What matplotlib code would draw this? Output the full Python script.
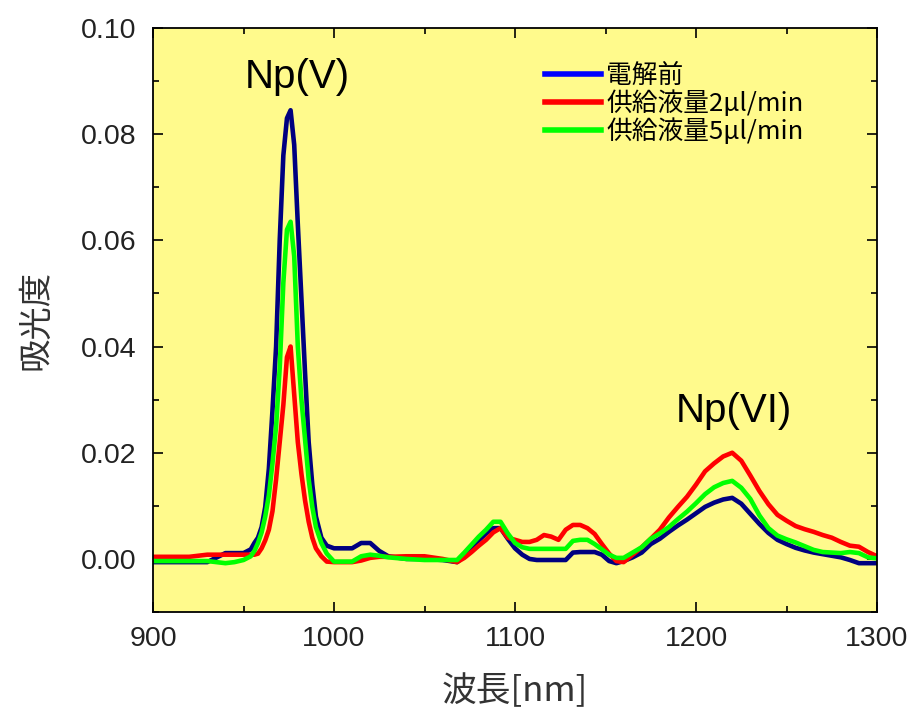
import matplotlib
matplotlib.use("Agg")
import matplotlib.pyplot as plt
from matplotlib.lines import Line2D
from matplotlib.ticker import MultipleLocator

# wavelength grid [nm]
wl = [900, 910, 920, 930, 940, 945, 950,
      954, 956, 958, 960, 962, 964, 966, 968, 970, 972, 974, 976, 978, 980,
      982, 984, 986, 988, 990, 993, 996,
      1000, 1005, 1010, 1015, 1020, 1025, 1030, 1040, 1050, 1060,
      1068, 1072, 1076, 1080, 1084, 1088, 1092, 1096, 1100, 1104, 1108, 1112,
      1116, 1120, 1124, 1128, 1132, 1136, 1140, 1144, 1148, 1152, 1156, 1160,
      1165, 1170, 1175, 1180, 1185, 1190, 1195, 1200, 1205, 1210, 1215, 1220,
      1225, 1230, 1235, 1240, 1245, 1250, 1255, 1260, 1265, 1270, 1275, 1280,
      1285, 1290, 1295, 1300]

# 電解前
abs_before = [-0.0006, -0.0006, -0.0006, -0.0006, 0.0011, 0.0011, 0.0011,
              0.0018, 0.003, 0.004, 0.006, 0.0098, 0.017, 0.028, 0.040, 0.060, 0.076, 0.083, 0.0845, 0.078, 0.063,
              0.049, 0.035, 0.022, 0.014, 0.008, 0.004, 0.0025,
              0.002, 0.002, 0.002, 0.003, 0.003, 0.0015, 0.0005, 0.0, 0.0, -0.0002,
              -0.0006, 0.0005, 0.002, 0.0035, 0.0048, 0.0058, 0.0058, 0.0038, 0.002, 0.0008, 0.0, -0.0002,
              -0.0002, -0.0002, -0.0002, -0.0002, 0.0012, 0.0013, 0.0013, 0.0013, 0.0008, -0.0004, -0.0008, -0.0004,
              0.0003, 0.0012, 0.0028, 0.0038, 0.0051, 0.0063, 0.0074, 0.0086, 0.0098, 0.0106, 0.0112, 0.0115,
              0.0104, 0.0085, 0.0066, 0.0049, 0.0036, 0.0028, 0.0021, 0.0016, 0.0012, 0.0009, 0.0006, 0.0003,
              -0.0002, -0.0008, -0.0008, -0.0008]

# 供給液量 2 ul/min
abs_2ul = [0.0004, 0.0004, 0.0004, 0.0008, 0.0008, 0.0008, 0.0008,
           0.0008, 0.0008, 0.001, 0.002, 0.0035, 0.0055, 0.009, 0.015, 0.022, 0.029, 0.038, 0.040, 0.031, 0.022,
           0.016, 0.011, 0.007, 0.004, 0.002, 0.0005, -0.0005,
           -0.0006, -0.0006, -0.0006, -0.0003, 0.0002, 0.0004, 0.0004, 0.0005, 0.0005, 0.0,
           -0.0006, 0.0002, 0.0013, 0.0025, 0.0036, 0.005, 0.0058, 0.004, 0.0036, 0.0032, 0.0032, 0.0036,
           0.0045, 0.0042, 0.0036, 0.0055, 0.0064, 0.0064, 0.0058, 0.0047, 0.0028, 0.001, -0.0004, -0.0006,
           0.0008, 0.0022, 0.0038, 0.0055, 0.0078, 0.0098, 0.0117, 0.014, 0.0165, 0.018, 0.0193, 0.020,
           0.0185, 0.0157, 0.0128, 0.0103, 0.0083, 0.0072, 0.0062, 0.0056, 0.0051, 0.0045, 0.004, 0.0032,
           0.0025, 0.0023, 0.0013, 0.0005]

# 供給液量 5 ul/min
abs_5ul = [-0.0004, -0.0004, -0.0004, -0.0004, -0.0008, -0.0006, -0.0002,
           0.0005, 0.0015, 0.003, 0.005, 0.008, 0.012, 0.018, 0.025, 0.036, 0.052, 0.062, 0.0635, 0.057, 0.040,
           0.030, 0.0225, 0.015, 0.0098, 0.006, 0.003, 0.001,
           -0.0005, -0.0005, -0.0005, 0.0005, 0.0008, 0.0006, 0.0003, 0.0, -0.0002, -0.0002,
           -0.0002, 0.0012, 0.0027, 0.0042, 0.0055, 0.007, 0.007, 0.0048, 0.003, 0.0022, 0.0019, 0.0019,
           0.0019, 0.0019, 0.0019, 0.0019, 0.0034, 0.0036, 0.0036, 0.0028, 0.0018, 0.0008, 0.0002, 0.0002,
           0.0012, 0.0022, 0.0038, 0.0048, 0.006, 0.0075, 0.0089, 0.0105, 0.0122, 0.0135, 0.0143, 0.0147,
           0.0134, 0.0113, 0.0082, 0.0058, 0.0044, 0.0037, 0.0031, 0.0024, 0.0017, 0.0013, 0.0012, 0.0011,
           0.0013, 0.0011, 0.0003, 0.0001]

labels = ["電解前", "供給液量2μl/min", "供給液量5μl/min"]
line_colors = ["#000080", "#FF0000", "#00FF00"]
legend_colors = ["#0000FF", "#FF0000", "#00FF00"]

JP = ["Noto Sans CJK JP", "DejaVu Sans"]
LAT = ["Liberation Sans", "DejaVu Sans"]

fig = plt.figure(figsize=(9.13, 7.17), dpi=100)
ax = fig.add_axes([0.1676, 0.1464, 0.793, 0.8146])
ax.set_facecolor("#FFFA8C")

for ys, c in zip([abs_before, abs_2ul, abs_5ul], line_colors):
    ax.plot(wl, ys, color=c, lw=3.3, solid_joinstyle="round")

ax.set_xlim(900, 1300)
ax.set_ylim(-0.01, 0.10)
ax.xaxis.set_major_locator(MultipleLocator(100))
ax.xaxis.set_minor_locator(MultipleLocator(50))
ax.yaxis.set_major_locator(MultipleLocator(0.02))
ax.yaxis.set_minor_locator(MultipleLocator(0.01))
ax.yaxis.set_major_formatter(matplotlib.ticker.FormatStrFormatter("%.2f"))
ax.tick_params(which="both", direction="in", top=True, right=True, width=1.2)
ax.tick_params(which="major", length=7)
ax.tick_params(which="minor", length=4)
ax.tick_params(axis="y", pad=12)
ax.tick_params(axis="x", pad=10)
for t in ax.get_xticklabels() + ax.get_yticklabels():
    t.set_family(LAT)
    t.set_fontsize(20.5)
    t.set_color("#222222")
for s in ax.spines.values():
    s.set_linewidth(1.3)

ax.set_xlabel("波長[nm]", family=JP, fontsize=25, color="#333333", labelpad=16)
ax.set_ylabel("吸光度", family=JP, fontsize=24, color="#333333", labelpad=20)

ax.text(979.6, 0.0908, "Np(V)", family=LAT, fontsize=29, ha="center", va="center")
ax.text(1221, 0.0278, "Np(VI)", family=LAT, fontsize=29, ha="center", va="center")

handles = [Line2D([], [], color=c, lw=4) for c in legend_colors]
ax.legend(handles, labels, loc="upper left", bbox_to_anchor=(0.541, 0.94),
          frameon=False, prop={"family": JP, "size": 18.5}, handlelength=2.2,
          handletextpad=0.2, labelspacing=0.05, borderpad=0, borderaxespad=0)

fig.savefig("out.png", dpi=100)
